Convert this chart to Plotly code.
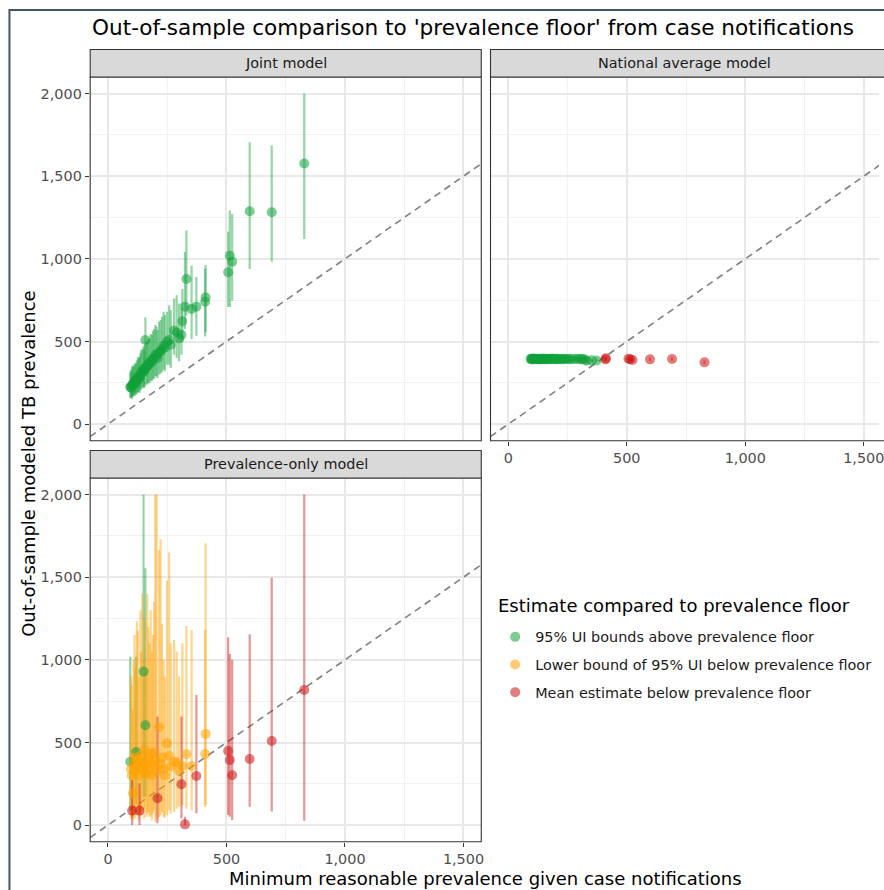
import plotly.graph_objects as go

# ---- data: minimum reasonable prevalence (from case notifications) and modeled estimates ----
prev_floor = [94, 97, 100, 102, 105, 108, 112, 115, 119, 122, 126, 130, 133, 137, 140, 145,
              150, 152, 155, 158, 162, 166, 170, 175, 180, 185, 190, 195, 200, 205, 209, 216,
              222, 228, 235, 240, 249, 258, 265, 279, 290, 300, 310, 314, 325, 331, 353, 373,
              410, 412, 507, 514, 524, 598, 691, 828]

joint_mean = [223, 228, 218, 235, 240, 250, 245, 262, 250, 268, 285, 282, 280, 300, 310, 320,
              330, 318, 335, 509, 345, 352, 365, 362, 380, 378, 395, 400, 420, 415, 400, 435,
              440, 455, 475, 462, 499, 510, 480, 566, 555, 520, 540, 623, 711, 878, 697, 711,
              741, 768, 919, 1019, 983, 1288, 1282, 1577]
joint_lo = [158, 165, 150, 160, 168, 172, 170, 180, 178, 185, 195, 192, 190, 205, 212, 220,
            225, 218, 230, 334, 238, 242, 250, 248, 262, 260, 272, 275, 290, 288, 280, 300,
            305, 315, 330, 320, 360, 360, 340, 420, 400, 380, 420, 497, 576, 657, 515, 535,
            530, 556, 709, 709, 747, 939, 983, 1120]
joint_hi = [318, 330, 312, 350, 345, 360, 352, 370, 365, 385, 405, 400, 410, 430, 445, 455,
            470, 450, 480, 647, 495, 505, 520, 515, 545, 540, 565, 575, 600, 590, 570, 620,
            630, 650, 680, 660, 680, 720, 690, 760, 780, 730, 700, 818, 1042, 1171, 959, 890,
            940, 963, 1165, 1292, 1272, 1705, 1685, 2000]

natl_mean = [395, 392, 396, 394, 393, 397, 394, 392, 395, 393, 396, 394, 391, 395, 393, 397,
             394, 392, 395, 393, 396, 394, 392, 395, 393, 397, 394, 392, 395, 393, 396, 394,
             392, 395, 393, 396, 394, 392, 395, 393, 396, 394, 392, 395, 390, 384, 386, 385,
             392, 398, 396, 393, 388, 392, 394, 374]
natl_lo = [384, 381, 385, 383, 382, 386, 383, 381, 384, 382, 385, 383, 380, 384, 382, 386,
           383, 381, 384, 382, 385, 383, 381, 384, 382, 386, 383, 381, 384, 382, 385, 383,
           381, 384, 382, 385, 383, 381, 384, 382, 385, 383, 381, 384, 379, 373, 375, 378,
           381, 387, 385, 382, 377, 381, 383, 363]
natl_hi = [406, 403, 407, 405, 404, 408, 405, 403, 406, 404, 407, 405, 402, 406, 404, 408,
           405, 403, 406, 404, 407, 405, 403, 406, 404, 408, 405, 403, 406, 404, 407, 405,
           403, 406, 404, 407, 405, 403, 406, 404, 407, 405, 403, 406, 401, 395, 397, 396,
           403, 409, 407, 404, 399, 403, 405, 385]

prev_mean = [384, 340, 300, 88, 193, 370, 410, 330, 443, 360, 395, 300, 88, 420, 350, 380,
             929, 330, 455, 604, 310, 370, 400, 345, 430, 300, 365, 440, 390, 325, 163, 592,
             370, 410, 340, 300, 495, 420, 355, 384, 380, 330, 247, 358, 5, 429, 358, 297,
             431, 552, 449, 394, 302, 400, 509, 818]
prev_lo = [100, 40, 60, 1, 30, 50, 70, 40, 125, 60, 70, 30, 1, 80, 60, 90,
           172, 40, 100, 170, 50, 70, 80, 50, 60, 30, 70, 90, 20, 40, 11, 50,
           60, 80, 50, 45, 60, 90, 70, 80, 100, 110, 42, 120, 0, 100, 90, 72,
           110, 124, 62, 51, 31, 112, 82, 27]
prev_hi = [1019, 900, 850, 273, 700, 1000, 1150, 950, 1019, 1233, 1177, 900, 253, 1300, 1050, 1400,
           2000, 1000, 1250, 1554, 950, 1399, 1200, 1100, 1300, 1050, 1150, 1350, 2000, 2000, 657, 1665,
           1730, 1217, 1000, 900, 1479, 1649, 1100, 1120, 1050, 900, 657, 1100, 51, 1205, 1181, 788,
           1180, 1705, 1137, 1036, 1000, 1155, 1497, 2000]

panels = ["Joint model", "National average model", "Prevalence-only model"]
categories = ["95% UI bounds above prevalence floor",
              "Lower bound of 95% UI below prevalence floor",
              "Mean estimate below prevalence floor"]
legend_title = "Estimate compared to prevalence floor"
cat_rgb = {categories[0]: (17, 161, 58), categories[1]: (255, 160, 0), categories[2]: (204, 17, 17)}
identity_ends = [-200, 2200]
x_ticks = [0, 500, 1000, 1500]
y_ticks = [0, 500, 1000, 1500, 2000]
x_labels = ["0", "500", "1,000", "1,500"]
y_labels = ["0", "500", "1,000", "1,500", "2,000"]

model_values = {
    "Joint model": (joint_mean, joint_lo, joint_hi),
    "National average model": (natl_mean, natl_lo, natl_hi),
    "Prevalence-only model": (prev_mean, prev_lo, prev_hi),
}


def classify(floor, mean, lo):
    if lo > floor:
        return categories[0]
    if mean > floor:
        return categories[1]
    return categories[2]


W, H = 884, 890
FONT = "DejaVu Sans"
TICK_SIZE = 14.4


def px_x(p):
    return p / W


def px_y(p):
    return 1 - p / H


# panel rectangles in pixels: (left, top, right, bottom)
boxes = {
    "Joint model": (90.7, 77.0, 484.0, 440.7),
    "National average model": (493.3, 77.0, 884.0, 440.7),
    "Prevalence-only model": (90.7, 478.0, 484.0, 841.7),
}
strip_h = 27.5
axis_ids = {"Joint model": ("x", "y"), "National average model": ("x2", "y2"),
            "Prevalence-only model": ("x3", "y3")}

fig = go.Figure()

for panel in panels:
    xa, ya = axis_ids[panel]
    mean, lo, hi = model_values[panel]
    cats = [classify(f, m, l) for f, m, l in zip(prev_floor, mean, lo)]
    # identity line: modeled prevalence equal to the floor
    fig.add_trace(go.Scatter(x=identity_ends, y=identity_ends, mode="lines", xaxis=xa, yaxis=ya,
                             line=dict(color="#7f7f7f", width=1.6, dash="7px,5px"),
                             showlegend=False, hoverinfo="skip"))
    # uncertainty intervals
    for c in categories:
        idx = [i for i, k in enumerate(cats) if k == c]
        if not idx:
            continue
        r, g, b = cat_rgb[c]
        fig.add_trace(go.Scatter(
            x=[prev_floor[i] for i in idx], y=[mean[i] for i in idx], mode="markers",
            xaxis=xa, yaxis=ya, marker=dict(size=1, opacity=0),
            error_y=dict(type="data", symmetric=False,
                         array=[hi[i] - mean[i] for i in idx],
                         arrayminus=[mean[i] - lo[i] for i in idx],
                         color=f"rgba({r},{g},{b},0.45)", thickness=2.2, width=0),
            showlegend=False, hoverinfo="skip"))
    # point estimates
    for c in categories:
        idx = [i for i, k in enumerate(cats) if k == c]
        if not idx:
            continue
        r, g, b = cat_rgb[c]
        fig.add_trace(go.Scatter(
            x=[prev_floor[i] for i in idx], y=[mean[i] for i in idx], mode="markers",
            xaxis=xa, yaxis=ya,
            marker=dict(size=10, color=f"rgb({r},{g},{b})", opacity=0.55, line=dict(width=0)),
            name=c, legendgroup=c, legendrank=categories.index(c) + 1,
            showlegend=(panel == "Prevalence-only model"), hoverinfo="skip"))

shapes = []
annotations = []
grid_major = dict(showgrid=True, gridcolor="#e8e8e8", gridwidth=1.8, zeroline=False,
                  minor=dict(dtick=250, tick0=0, showgrid=True, gridcolor="#f1f1f1",
                             gridwidth=1.0, ticks=""))

for panel in panels:
    xa, ya = axis_ids[panel]
    l, t, r, b = boxes[panel]
    xkey = "xaxis" + xa[1:]
    ykey = "yaxis" + ya[1:]
    show_x = panel != "Joint model"
    show_y = panel != "National average model"
    x_hi = -75 + (r - l) / ((484.0 - 90.7) / 1650.0)
    fig.layout[xkey] = dict(domain=[px_x(l), min(px_x(r), 1.0)], anchor=ya, range=[-75, x_hi],
                            tickmode="array", tickvals=x_ticks, ticktext=x_labels,
                            showticklabels=show_x, ticks="outside" if show_x else "",
                            ticklen=4, tickwidth=1, tickcolor="#333333",
                            ticklabeloverflow="allow",
                            tickfont=dict(family=FONT, size=TICK_SIZE, color="#4d4d4d"),
                            **grid_major)
    fig.layout[ykey] = dict(domain=[px_y(b), px_y(t)], anchor=xa, range=[-100, 2100],
                            tickmode="array", tickvals=y_ticks, ticktext=y_labels,
                            showticklabels=show_y, ticks="outside" if show_y else "",
                            ticklen=4.5, tickwidth=1, tickcolor="#333333",
                            tickfont=dict(family=FONT, size=TICK_SIZE, color="#4d4d4d"),
                            **grid_major)
    # panel border
    shapes.append(dict(type="rect", xref="paper", yref="paper", layer="above",
                       x0=px_x(l), x1=px_x(r + (10 if r >= W else 0)), y0=px_y(b), y1=px_y(t),
                       line=dict(color="#333333", width=1.1), fillcolor="rgba(0,0,0,0)"))
    # facet strip
    shapes.append(dict(type="rect", xref="paper", yref="paper", layer="above",
                       x0=px_x(l), x1=px_x(r + (10 if r >= W else 0)),
                       y0=px_y(t), y1=px_y(t - strip_h),
                       line=dict(color="#333333", width=1.1), fillcolor="#d9d9d9"))
    sr = min(r, l + 393.3)
    annotations.append(dict(text=panel, xref="paper", yref="paper", showarrow=False,
                            x=px_x((l + sr) / 2), y=px_y(t - strip_h / 2),
                            xanchor="center", yanchor="middle",
                            font=dict(family=FONT, size=TICK_SIZE, color="#1a1a1a")))

# outer frame
shapes.append(dict(type="rect", xref="paper", yref="paper", layer="above",
                   x0=px_x(9.5), x1=1.1, y0=-0.1, y1=px_y(10),
                   line=dict(color="#44546a", width=2), fillcolor="rgba(0,0,0,0)"))

annotations += [
    dict(text="Out-of-sample comparison to 'prevalence floor' from case notifications",
         xref="paper", yref="paper", x=px_x(91), y=px_y(28), xanchor="left", yanchor="middle",
         showarrow=False, font=dict(family=FONT, size=21.6, color="#000000")),
    dict(text="Minimum reasonable prevalence given case notifications",
         xref="paper", yref="paper", x=px_x(488), y=px_y(878), xanchor="center",
         yanchor="middle", showarrow=False, font=dict(family=FONT, size=18, color="#000000")),
    dict(text="Out-of-sample modeled TB prevalence", textangle=-90,
         xref="paper", yref="paper", x=px_x(28), y=px_y(464), xanchor="center",
         yanchor="middle", showarrow=False, font=dict(family=FONT, size=18, color="#000000")),
    dict(text=legend_title, xref="paper", yref="paper", x=px_x(499), y=px_y(605),
         xanchor="left", yanchor="middle", showarrow=False,
         font=dict(family=FONT, size=18, color="#000000")),
]

fig.update_layout(
    width=W, height=H, margin=dict(l=0, r=0, t=0, b=0),
    paper_bgcolor="white", plot_bgcolor="white",
    shapes=shapes, annotations=annotations,
    font=dict(family=FONT),
    legend=dict(x=px_x(498), y=px_y(621), xanchor="left", yanchor="top",
                font=dict(family=FONT, size=TICK_SIZE, color="#1a1a1a"),
                tracegroupgap=6, bgcolor="rgba(0,0,0,0)", traceorder="grouped"),
)

fig.write_html("out.html")
